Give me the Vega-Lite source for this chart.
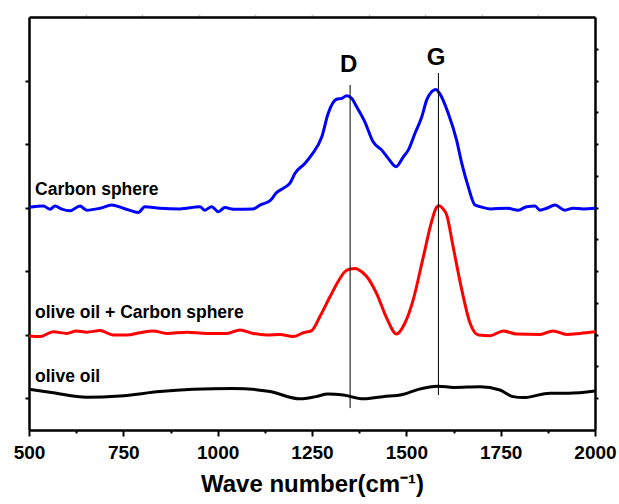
{
  "$schema": "https://vega.github.io/schema/vega-lite/v6.json",
  "width": 566,
  "height": 413,
  "autosize": {"type": "none"},
  "padding": {"left": 29, "top": 17, "right": 24, "bottom": 74},
  "background": "white",
  "config": {"view": {"stroke": null}, "font": "Liberation Sans"},
  "datasets": {
    "curves": [
      {"series": "Carbon sphere", "wn": 500, "v": 7.01},
      {"series": "Carbon sphere", "wn": 538, "v": 7.05},
      {"series": "Carbon sphere", "wn": 556, "v": 6.95},
      {"series": "Carbon sphere", "wn": 569, "v": 7.05},
      {"series": "Carbon sphere", "wn": 587, "v": 6.95},
      {"series": "Carbon sphere", "wn": 609, "v": 6.9},
      {"series": "Carbon sphere", "wn": 635, "v": 7.05},
      {"series": "Carbon sphere", "wn": 653, "v": 6.92},
      {"series": "Carbon sphere", "wn": 688, "v": 6.98},
      {"series": "Carbon sphere", "wn": 719, "v": 7.08},
      {"series": "Carbon sphere", "wn": 750, "v": 6.98},
      {"series": "Carbon sphere", "wn": 790, "v": 6.85},
      {"series": "Carbon sphere", "wn": 807, "v": 7.03},
      {"series": "Carbon sphere", "wn": 847, "v": 6.98},
      {"series": "Carbon sphere", "wn": 900, "v": 6.96},
      {"series": "Carbon sphere", "wn": 953, "v": 7.03},
      {"series": "Carbon sphere", "wn": 966, "v": 6.92},
      {"series": "Carbon sphere", "wn": 984, "v": 7.03},
      {"series": "Carbon sphere", "wn": 1002, "v": 6.87},
      {"series": "Carbon sphere", "wn": 1019, "v": 7.0},
      {"series": "Carbon sphere", "wn": 1041, "v": 6.95},
      {"series": "Carbon sphere", "wn": 1094, "v": 6.96},
      {"series": "Carbon sphere", "wn": 1112, "v": 7.08},
      {"series": "Carbon sphere", "wn": 1139, "v": 7.22},
      {"series": "Carbon sphere", "wn": 1156, "v": 7.47},
      {"series": "Carbon sphere", "wn": 1174, "v": 7.61},
      {"series": "Carbon sphere", "wn": 1192, "v": 7.78},
      {"series": "Carbon sphere", "wn": 1205, "v": 8.08},
      {"series": "Carbon sphere", "wn": 1231, "v": 8.39},
      {"series": "Carbon sphere", "wn": 1249, "v": 8.66},
      {"series": "Carbon sphere", "wn": 1276, "v": 9.23},
      {"series": "Carbon sphere", "wn": 1293, "v": 9.97},
      {"series": "Carbon sphere", "wn": 1315, "v": 10.41},
      {"series": "Carbon sphere", "wn": 1329, "v": 10.44},
      {"series": "Carbon sphere", "wn": 1342, "v": 10.52},
      {"series": "Carbon sphere", "wn": 1355, "v": 10.44},
      {"series": "Carbon sphere", "wn": 1368, "v": 10.18},
      {"series": "Carbon sphere", "wn": 1390, "v": 9.7},
      {"series": "Carbon sphere", "wn": 1412, "v": 9.07},
      {"series": "Carbon sphere", "wn": 1435, "v": 8.81},
      {"series": "Carbon sphere", "wn": 1452, "v": 8.55},
      {"series": "Carbon sphere", "wn": 1473, "v": 8.29},
      {"series": "Carbon sphere", "wn": 1492, "v": 8.6},
      {"series": "Carbon sphere", "wn": 1505, "v": 8.81},
      {"series": "Carbon sphere", "wn": 1523, "v": 9.34},
      {"series": "Carbon sphere", "wn": 1541, "v": 9.86},
      {"series": "Carbon sphere", "wn": 1554, "v": 10.39},
      {"series": "Carbon sphere", "wn": 1567, "v": 10.65},
      {"series": "Carbon sphere", "wn": 1578, "v": 10.72},
      {"series": "Carbon sphere", "wn": 1589, "v": 10.58},
      {"series": "Carbon sphere", "wn": 1611, "v": 9.97},
      {"series": "Carbon sphere", "wn": 1633, "v": 9.13},
      {"series": "Carbon sphere", "wn": 1647, "v": 8.39},
      {"series": "Carbon sphere", "wn": 1664, "v": 7.66},
      {"series": "Carbon sphere", "wn": 1682, "v": 7.08},
      {"series": "Carbon sphere", "wn": 1695, "v": 7.03},
      {"series": "Carbon sphere", "wn": 1722, "v": 6.96},
      {"series": "Carbon sphere", "wn": 1766, "v": 6.98},
      {"series": "Carbon sphere", "wn": 1797, "v": 6.92},
      {"series": "Carbon sphere", "wn": 1819, "v": 7.03},
      {"series": "Carbon sphere", "wn": 1841, "v": 7.05},
      {"series": "Carbon sphere", "wn": 1854, "v": 6.92},
      {"series": "Carbon sphere", "wn": 1872, "v": 6.98},
      {"series": "Carbon sphere", "wn": 1894, "v": 7.08},
      {"series": "Carbon sphere", "wn": 1920, "v": 6.92},
      {"series": "Carbon sphere", "wn": 1942, "v": 6.98},
      {"series": "Carbon sphere", "wn": 1969, "v": 6.96},
      {"series": "Carbon sphere", "wn": 2000, "v": 6.98},

      {"series": "olive oil + Carbon sphere", "wn": 500, "v": 2.96},
      {"series": "olive oil + Carbon sphere", "wn": 529, "v": 2.94},
      {"series": "olive oil + Carbon sphere", "wn": 564, "v": 3.09},
      {"series": "olive oil + Carbon sphere", "wn": 600, "v": 3.04},
      {"series": "olive oil + Carbon sphere", "wn": 626, "v": 3.12},
      {"series": "olive oil + Carbon sphere", "wn": 653, "v": 3.08},
      {"series": "olive oil + Carbon sphere", "wn": 688, "v": 3.13},
      {"series": "olive oil + Carbon sphere", "wn": 723, "v": 2.99},
      {"series": "olive oil + Carbon sphere", "wn": 759, "v": 2.99},
      {"series": "olive oil + Carbon sphere", "wn": 794, "v": 3.06},
      {"series": "olive oil + Carbon sphere", "wn": 829, "v": 3.12},
      {"series": "olive oil + Carbon sphere", "wn": 865, "v": 3.04},
      {"series": "olive oil + Carbon sphere", "wn": 918, "v": 3.08},
      {"series": "olive oil + Carbon sphere", "wn": 971, "v": 3.04},
      {"series": "olive oil + Carbon sphere", "wn": 1024, "v": 3.04},
      {"series": "olive oil + Carbon sphere", "wn": 1059, "v": 3.15},
      {"series": "olive oil + Carbon sphere", "wn": 1094, "v": 3.04},
      {"series": "olive oil + Carbon sphere", "wn": 1130, "v": 2.99},
      {"series": "olive oil + Carbon sphere", "wn": 1165, "v": 3.01},
      {"series": "olive oil + Carbon sphere", "wn": 1200, "v": 2.94},
      {"series": "olive oil + Carbon sphere", "wn": 1227, "v": 3.06},
      {"series": "olive oil + Carbon sphere", "wn": 1249, "v": 3.13},
      {"series": "olive oil + Carbon sphere", "wn": 1271, "v": 3.57},
      {"series": "olive oil + Carbon sphere", "wn": 1298, "v": 4.2},
      {"series": "olive oil + Carbon sphere", "wn": 1324, "v": 4.77},
      {"series": "olive oil + Carbon sphere", "wn": 1337, "v": 4.98},
      {"series": "olive oil + Carbon sphere", "wn": 1351, "v": 5.07},
      {"series": "olive oil + Carbon sphere", "wn": 1364, "v": 5.08},
      {"series": "olive oil + Carbon sphere", "wn": 1373, "v": 5.05},
      {"series": "olive oil + Carbon sphere", "wn": 1395, "v": 4.83},
      {"series": "olive oil + Carbon sphere", "wn": 1421, "v": 4.3},
      {"series": "olive oil + Carbon sphere", "wn": 1448, "v": 3.52},
      {"series": "olive oil + Carbon sphere", "wn": 1474, "v": 3.02},
      {"series": "olive oil + Carbon sphere", "wn": 1496, "v": 3.36},
      {"series": "olive oil + Carbon sphere", "wn": 1518, "v": 4.09},
      {"series": "olive oil + Carbon sphere", "wn": 1545, "v": 5.45},
      {"series": "olive oil + Carbon sphere", "wn": 1567, "v": 6.56},
      {"series": "olive oil + Carbon sphere", "wn": 1580, "v": 7.01},
      {"series": "olive oil + Carbon sphere", "wn": 1587, "v": 7.06},
      {"series": "olive oil + Carbon sphere", "wn": 1596, "v": 6.98},
      {"series": "olive oil + Carbon sphere", "wn": 1607, "v": 6.77},
      {"series": "olive oil + Carbon sphere", "wn": 1624, "v": 5.77},
      {"series": "olive oil + Carbon sphere", "wn": 1647, "v": 4.41},
      {"series": "olive oil + Carbon sphere", "wn": 1669, "v": 3.36},
      {"series": "olive oil + Carbon sphere", "wn": 1691, "v": 2.99},
      {"series": "olive oil + Carbon sphere", "wn": 1722, "v": 2.97},
      {"series": "olive oil + Carbon sphere", "wn": 1757, "v": 3.12},
      {"series": "olive oil + Carbon sphere", "wn": 1792, "v": 3.02},
      {"series": "olive oil + Carbon sphere", "wn": 1854, "v": 3.01},
      {"series": "olive oil + Carbon sphere", "wn": 1889, "v": 3.12},
      {"series": "olive oil + Carbon sphere", "wn": 1925, "v": 3.01},
      {"series": "olive oil + Carbon sphere", "wn": 1960, "v": 3.04},
      {"series": "olive oil + Carbon sphere", "wn": 2000, "v": 3.09},

      {"series": "olive oil", "wn": 500, "v": 1.28},
      {"series": "olive oil", "wn": 564, "v": 1.17},
      {"series": "olive oil", "wn": 653, "v": 1.03},
      {"series": "olive oil", "wn": 741, "v": 1.07},
      {"series": "olive oil", "wn": 847, "v": 1.21},
      {"series": "olive oil", "wn": 935, "v": 1.28},
      {"series": "olive oil", "wn": 1041, "v": 1.31},
      {"series": "olive oil", "wn": 1139, "v": 1.21},
      {"series": "olive oil", "wn": 1218, "v": 0.98},
      {"series": "olive oil", "wn": 1260, "v": 1.05},
      {"series": "olive oil", "wn": 1292, "v": 1.13},
      {"series": "olive oil", "wn": 1333, "v": 1.1},
      {"series": "olive oil", "wn": 1386, "v": 0.98},
      {"series": "olive oil", "wn": 1438, "v": 1.05},
      {"series": "olive oil", "wn": 1490, "v": 1.12},
      {"series": "olive oil", "wn": 1532, "v": 1.28},
      {"series": "olive oil", "wn": 1584, "v": 1.38},
      {"series": "olive oil", "wn": 1626, "v": 1.34},
      {"series": "olive oil", "wn": 1695, "v": 1.36},
      {"series": "olive oil", "wn": 1748, "v": 1.26},
      {"series": "olive oil", "wn": 1783, "v": 1.05},
      {"series": "olive oil", "wn": 1810, "v": 1.02},
      {"series": "olive oil", "wn": 1881, "v": 1.16},
      {"series": "olive oil", "wn": 1930, "v": 1.16},
      {"series": "olive oil", "wn": 2000, "v": 1.23}
    ],
    "peaks": [
      {"band": "D", "wn": 1351, "y1": 0.69, "y2": 10.86, "lx": 1347, "ly": 11.28},
      {"band": "G", "wn": 1585, "y1": 1.1, "y2": 11.24, "lx": 1579, "ly": 11.49}
    ],
    "labels": [
      {"text": "Carbon sphere", "wn": 516, "v": 7.4},
      {"text": "olive oil + Carbon sphere", "wn": 516, "v": 3.53},
      {"text": "olive oil", "wn": 516, "v": 1.52}
    ]
  },
  "layer": [
    {
      "data": {"name": "curves"},
      "mark": {"type": "line", "strokeWidth": 3, "interpolate": "monotone"},
      "encoding": {
        "x": {
          "field": "wn", "type": "quantitative",
          "scale": {"domain": [500, 2000], "nice": false, "zero": false},
          "axis": {
            "orient": "bottom", "values": [500, 750, 1000, 1250, 1500, 1750, 2000], "format": "d",
            "title": "Wave number(cm⁻¹)", "grid": false,
            "domainColor": "black", "domainWidth": 2.5,
            "tickColor": "black", "tickWidth": 2, "tickSize": 6,
            "labelFontSize": 19, "labelFontWeight": "bold", "labelColor": "black",
            "labelPadding": 7, "labelFlush": false, "labelOverlap": false,
            "titleFontSize": 24, "titleFontWeight": "bold", "titleColor": "black", "titlePadding": 10
          }
        },
        "y": {
          "field": "v", "type": "quantitative",
          "scale": {"domain": [0, 13], "nice": false, "zero": false},
          "axis": {
            "orient": "left", "values": [1, 3, 5, 7, 9, 11], "labels": false, "title": null, "grid": false,
            "domainColor": "black", "domainWidth": 2.5,
            "tickColor": "black", "tickWidth": 2, "tickSize": 4
          }
        },
        "color": {
          "field": "series", "type": "nominal",
          "scale": {"domain": ["Carbon sphere", "olive oil + Carbon sphere", "olive oil"], "range": ["#0000ff", "#ff0000", "#000000"]},
          "legend": null
        }
      }
    },
    {
      "data": {"name": "peaks"},
      "mark": {"type": "rule", "color": "black", "strokeWidth": 1},
      "encoding": {
        "x": {
          "field": "wn", "type": "quantitative",
          "axis": {
            "orient": "top", "values": [650, 800, 950, 1100, 1250, 1400, 1550, 1700, 1850],
            "labels": false, "title": null, "grid": false,
            "domainColor": "black", "domainWidth": 2.5,
            "tickColor": "#c8c8c8", "tickWidth": 1.5, "tickSize": 3
          }
        },
        "y": {
          "field": "y1", "type": "quantitative",
          "axis": {
            "orient": "right", "values": [1, 2, 3, 4, 5, 6, 7, 8, 9, 10, 11, 12],
            "labels": false, "title": null, "grid": false,
            "domainColor": "black", "domainWidth": 2.5,
            "tickColor": "black", "tickWidth": 2, "tickSize": 3
          }
        },
        "y2": {"field": "y2"}
      }
    },
    {
      "data": {"name": "peaks"},
      "mark": {"type": "text", "fontSize": 24, "fontWeight": "bold", "font": "Liberation Sans", "align": "center", "baseline": "alphabetic", "color": "black"},
      "encoding": {
        "x": {
          "field": "lx", "type": "quantitative",
          "axis": {
            "orient": "bottom", "values": [625, 875, 1125, 1375, 1625, 1875],
            "labels": false, "title": null, "grid": false, "domain": false,
            "tickColor": "black", "tickWidth": 2, "tickSize": 3
          }
        },
        "y": {"field": "ly", "type": "quantitative", "axis": null},
        "text": {"field": "band"}
      }
    },
    {
      "data": {"name": "labels"},
      "mark": {"type": "text", "fontSize": 17.5, "fontWeight": "bold", "font": "Liberation Sans", "align": "left", "baseline": "alphabetic", "color": "black"},
      "encoding": {
        "x": {"field": "wn", "type": "quantitative", "axis": null},
        "y": {"field": "v", "type": "quantitative", "axis": null},
        "text": {"field": "text"}
      }
    }
  ],
  "resolve": {"axis": {"x": "independent", "y": "independent"}}
}
